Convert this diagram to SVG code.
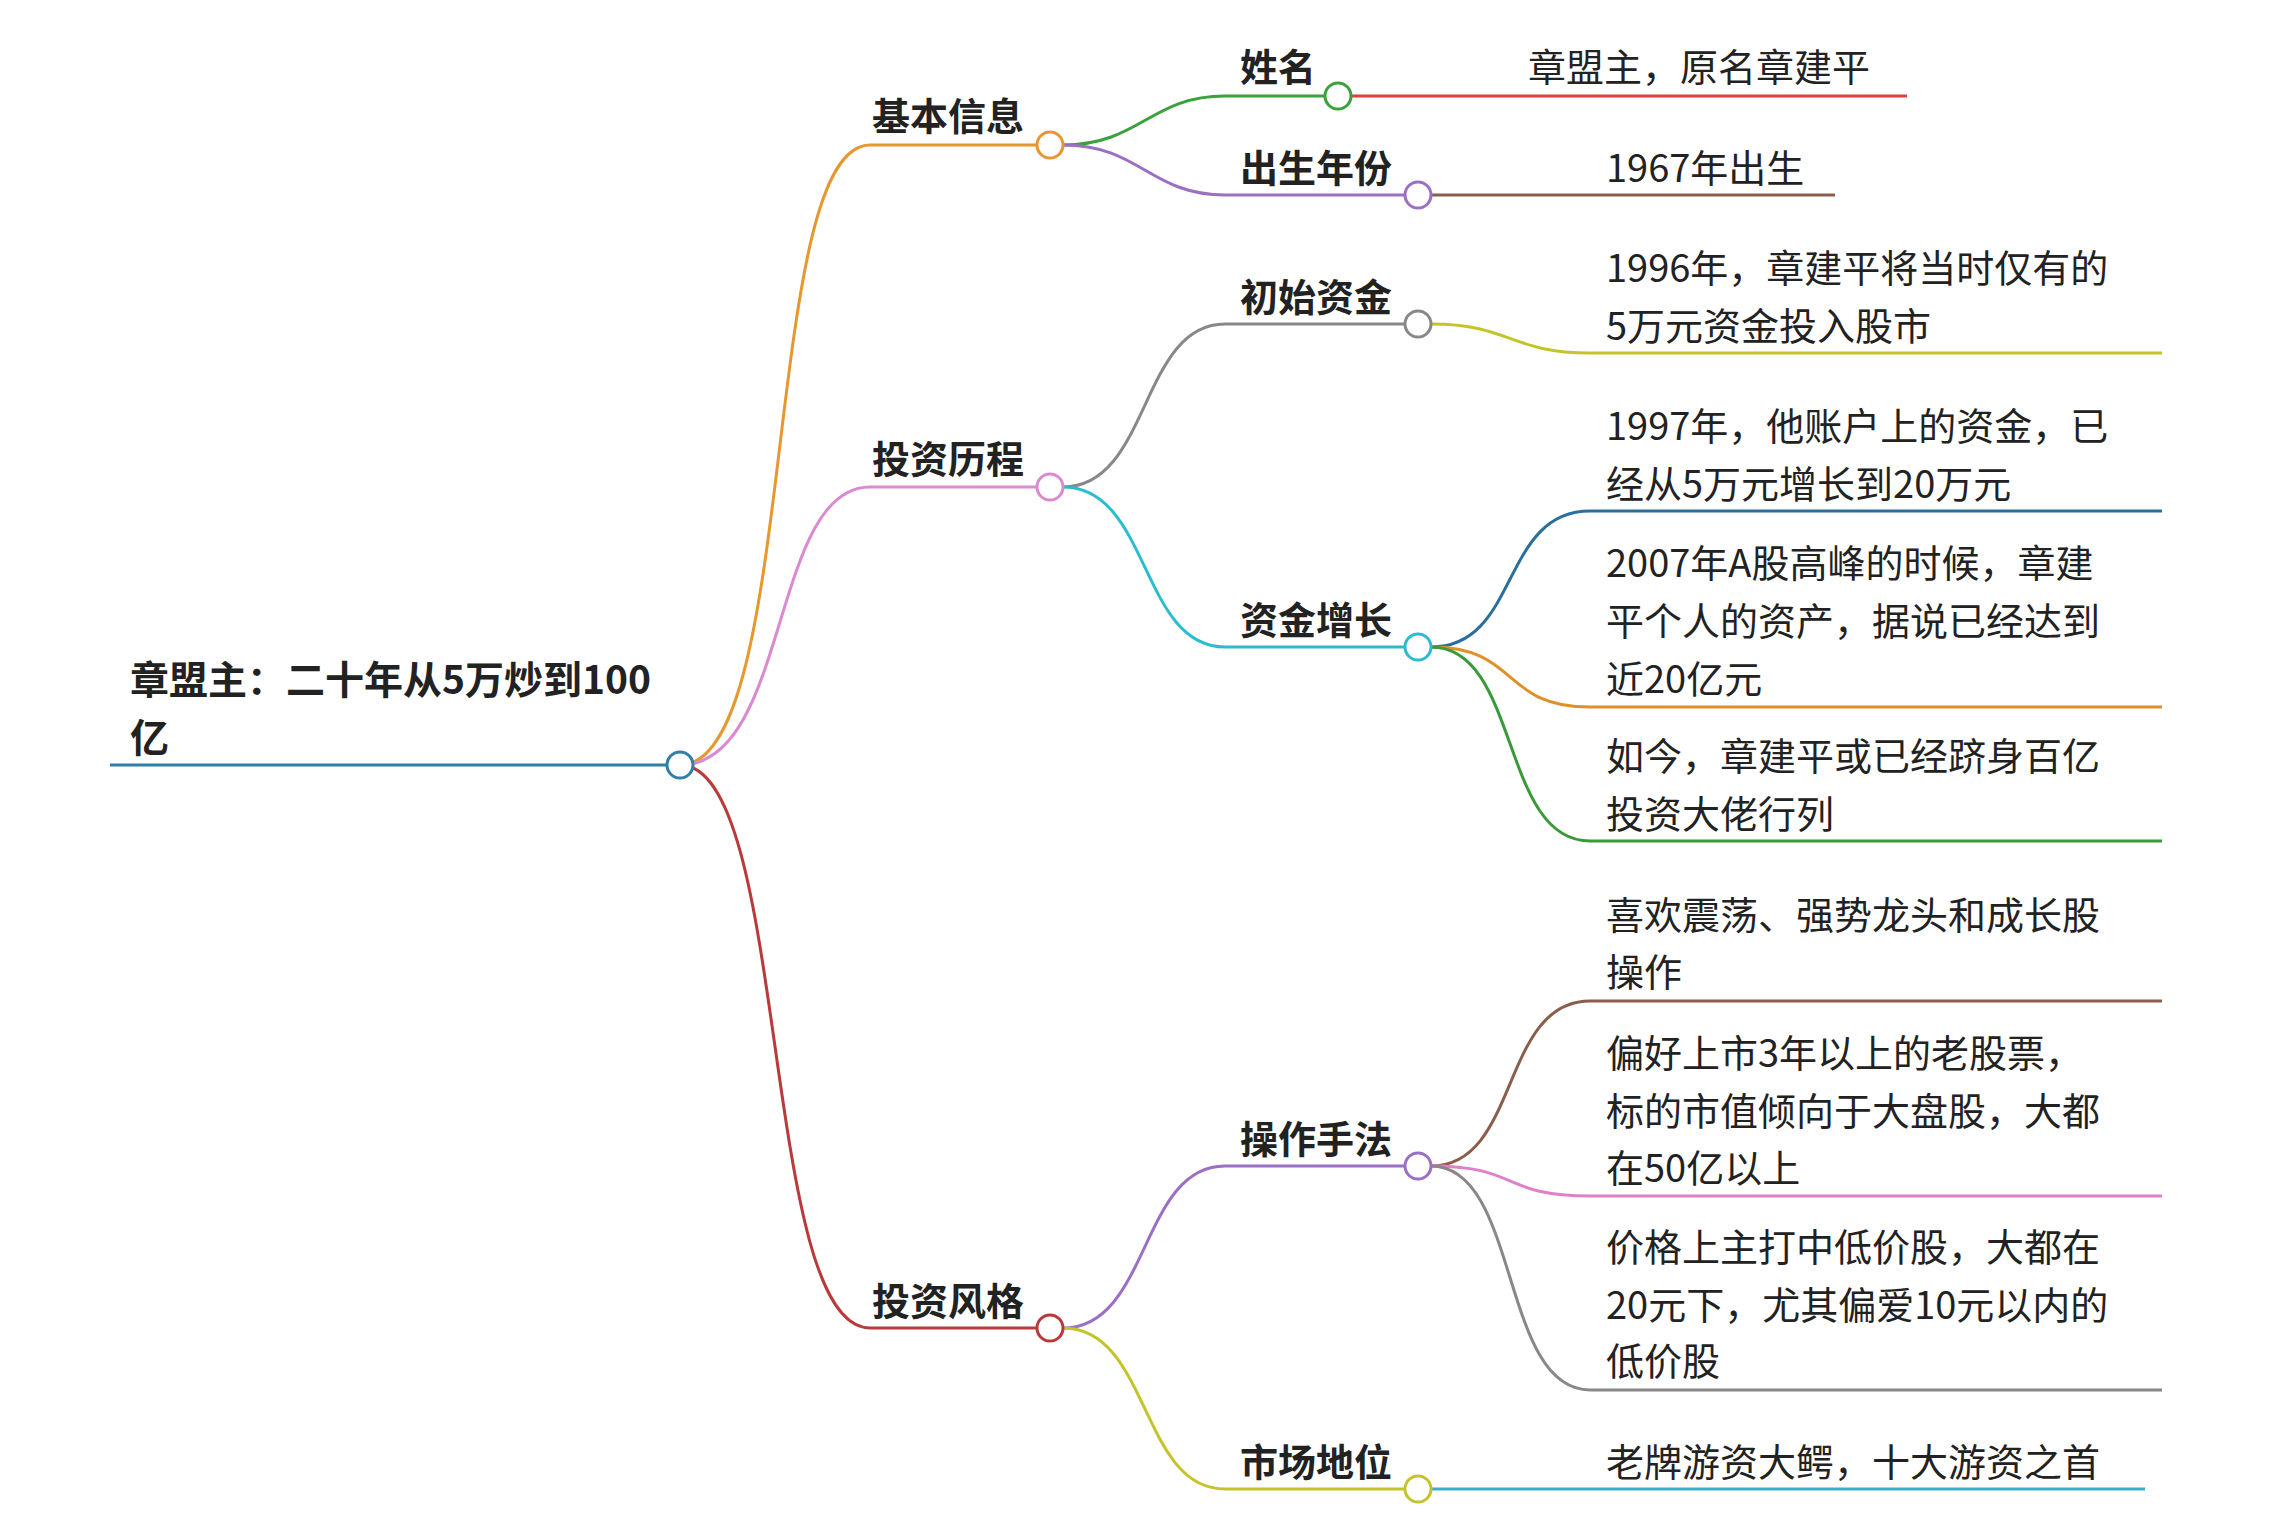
<svg xmlns="http://www.w3.org/2000/svg" width="2270" height="1534" viewBox="0 0 2270 1534">
<style>
text{font-family:"Noto Sans CJK SC","Liberation Sans",sans-serif;fill:#222}
.b{font-weight:bold;font-size:38px}
.t{font-size:38px}
.r{font-weight:bold;font-size:39px}
path{fill:none;stroke-width:3}
circle{fill:#fff;stroke-width:3}
</style>
<rect width="2270" height="1534" fill="#fff"/>
<g id="connectors">
<path d="M110,765 H667" stroke="#2f7fa8" stroke-width="4"/>
<path d="M680,765 C800,765 760,145 870,145 H1037" stroke="#e8962e"/>
<path d="M680,765 C790,765 770,487 870,487 H1037" stroke="#d98ad0"/>
<path d="M680,765 C790,765 760,1328 870,1328 H1037" stroke="#b83a3a"/>
<path d="M1063,145 C1140,145 1150,96 1225,96 H1325" stroke="#3aa23a"/>
<path d="M1351,96 H1907" stroke="#e0403a"/>
<path d="M1063,145 C1140,145 1150,195 1225,195 H1405" stroke="#9a6fc4"/>
<path d="M1431,195 H1835" stroke="#8b5e4b"/>
<path d="M1063,487 C1150,487 1140,324 1225,324 H1405" stroke="#888"/>
<path d="M1431,324 C1510,324 1510,353 1590,353 H2162" stroke="#c4c42a"/>
<path d="M1063,487 C1150,487 1140,647 1225,647 H1405" stroke="#2bbcd0"/>
<path d="M1431,647 C1520,647 1500,511 1590,511 H2162" stroke="#2a6f9e"/>
<path d="M1431,647 C1520,647 1500,707 1590,707 H2162" stroke="#e0902a"/>
<path d="M1431,647 C1520,647 1500,841 1590,841 H2162" stroke="#3a9a3a"/>
<path d="M1063,1328 C1150,1328 1140,1166 1225,1166 H1405" stroke="#9a6fc4"/>
<path d="M1431,1166 C1520,1166 1500,1001 1590,1001 H2162" stroke="#8b5e4b"/>
<path d="M1431,1166 C1520,1166 1500,1196 1590,1196 H2162" stroke="#e080c8"/>
<path d="M1431,1166 C1520,1166 1500,1390 1590,1390 H2162" stroke="#888"/>
<path d="M1063,1328 C1150,1328 1140,1489 1225,1489 H1405" stroke="#c4c42a"/>
<path d="M1431,1489 H2145" stroke="#3ab0c8"/>
</g>
<g id="root"><circle cx="680" cy="765" r="13" stroke="#2f7fa8"/><text class="r" x="130" y="694">章盟主：二十年从5万炒到100</text><text class="r" x="130" y="752">亿</text></g>
<g id="n1"><circle cx="1050" cy="145" r="13" stroke="#e8962e"/><text class="b" x="872" y="130">基本信息</text></g>
<g id="n2"><circle cx="1050" cy="487" r="13" stroke="#d98ad0"/><text class="b" x="872" y="473">投资历程</text></g>
<g id="n3"><circle cx="1050" cy="1328" r="13" stroke="#b83a3a"/><text class="b" x="872" y="1315">投资风格</text></g>
<g id="n11"><circle cx="1338" cy="96" r="13" stroke="#3aa23a"/><text class="b" x="1240" y="81">姓名</text></g>
<g id="n12"><circle cx="1418" cy="195" r="13" stroke="#9a6fc4"/><text class="b" x="1240" y="182">出生年份</text></g>
<g id="n21"><circle cx="1418" cy="324" r="13" stroke="#888"/><text class="b" x="1240" y="311">初始资金</text></g>
<g id="n22"><circle cx="1418" cy="647" r="13" stroke="#2bbcd0"/><text class="b" x="1240" y="634">资金增长</text></g>
<g id="n31"><circle cx="1418" cy="1166" r="13" stroke="#9a6fc4"/><text class="b" x="1240" y="1153">操作手法</text></g>
<g id="n32"><circle cx="1418" cy="1489" r="13" stroke="#c4c42a"/><text class="b" x="1240" y="1476">市场地位</text></g>
<g id="leaves">
<text class="t" x="1528" y="81">章盟主，原名章建平</text>
<text class="t" x="1606" y="182">1967年出生</text>
<text class="t" x="1606" y="282">1996年，章建平将当时仅有的</text>
<text class="t" x="1606" y="340">5万元资金投入股市</text>
<text class="t" x="1606" y="440">1997年，他账户上的资金，已</text>
<text class="t" x="1606" y="498">经从5万元增长到20万元</text>
<text class="t" x="1606" y="577">2007年A股高峰的时候，章建</text>
<text class="t" x="1606" y="635">平个人的资产，据说已经达到</text>
<text class="t" x="1606" y="693">近20亿元</text>
<text class="t" x="1606" y="770">如今，章建平或已经跻身百亿</text>
<text class="t" x="1606" y="828">投资大佬行列</text>
<text class="t" x="1606" y="929">喜欢震荡、强势龙头和成长股</text>
<text class="t" x="1606" y="986">操作</text>
<text class="t" x="1606" y="1067">偏好上市3年以上的老股票，</text>
<text class="t" x="1606" y="1125">标的市值倾向于大盘股，大都</text>
<text class="t" x="1606" y="1182">在50亿以上</text>
<text class="t" x="1606" y="1261">价格上主打中低价股，大都在</text>
<text class="t" x="1606" y="1319">20元下，尤其偏爱10元以内的</text>
<text class="t" x="1606" y="1375">低价股</text>
<text class="t" x="1606" y="1476">老牌游资大鳄，十大游资之首</text>
</g>
</svg>
